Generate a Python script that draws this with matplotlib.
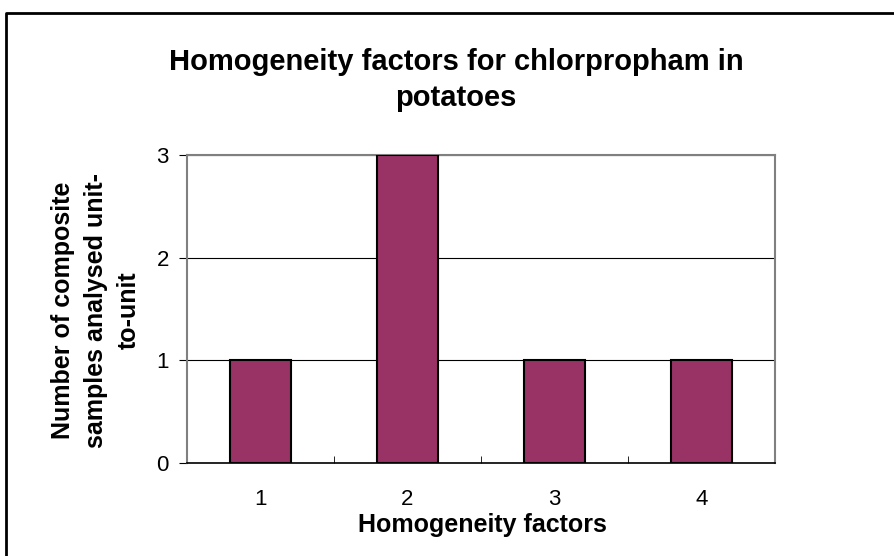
import matplotlib.pyplot as plt
from matplotlib.lines import Line2D

# data
factors = ['1', '2', '3', '4']
counts = [1, 3, 1, 1]

W, H = 894, 556
plt.rcParams['font.family'] = ['Liberation Sans', 'DejaVu Sans']
fig = plt.figure(figsize=(W / 100, H / 100), dpi=100)

# outer chart border (only top and left edges fall inside the picture)
fig.lines.append(Line2D([6 / W, 6 / W, 1.0], [0.0, 1 - 12.5 / H, 1 - 12.5 / H],
                        transform=fig.transFigure, color='black', linewidth=2))

# plot area in pixels: left 187, right 775, top 155, bottom 463
ax = fig.add_axes([187 / W, 1 - 463 / H, (775 - 187) / W, (463 - 155) / H])
x = range(len(factors))
ax.bar(x, counts, width=0.41, color='#993366', edgecolor='black', linewidth=1.5, zorder=3)

ax.set_xlim(-0.5, len(factors) - 0.5)
ax.set_ylim(0, 3)
ax.set_yticks([0, 1, 2, 3])
ax.set_xticks(list(x))
ax.set_xticklabels(factors)
ax.set_xticks([i + 0.5 for i in range(len(factors) - 1)], minor=True)
ax.tick_params(axis='x', which='major', length=0, pad=19, labelsize=16)
ax.tick_params(axis='x', which='minor', length=5, direction='in', color='black')
ax.tick_params(axis='y', length=6, direction='out', pad=7, labelsize=16)
ax.grid(axis='y', color='black', linewidth=0.8, zorder=0)

for side in ['top', 'right', 'left']:
    ax.spines[side].set_color('#808080')
    ax.spines[side].set_linewidth(1.5)
ax.spines['bottom'].set_color('black')
ax.spines['bottom'].set_linewidth(1.2)

fig.text(482 / W, 1 - 525 / H, 'Homogeneity factors', ha='center', va='center',
         fontsize=18, fontweight='bold')
fig.text(96 / W, 1 - 310 / H, 'Number of composite\nsamples analysed unit-\nto-unit',
         ha='center', va='center', rotation=90, fontsize=18, fontweight='bold',
         linespacing=1.45)

fig.text(456 / W, 1 - 70 / H, 'Homogeneity factors for chlorpropham in',
         ha='center', va='baseline', fontsize=21, fontweight='bold')
fig.text(456 / W, 1 - 106 / H, 'potatoes',
         ha='center', va='baseline', fontsize=21, fontweight='bold')

fig.savefig('out.png', dpi=100)
